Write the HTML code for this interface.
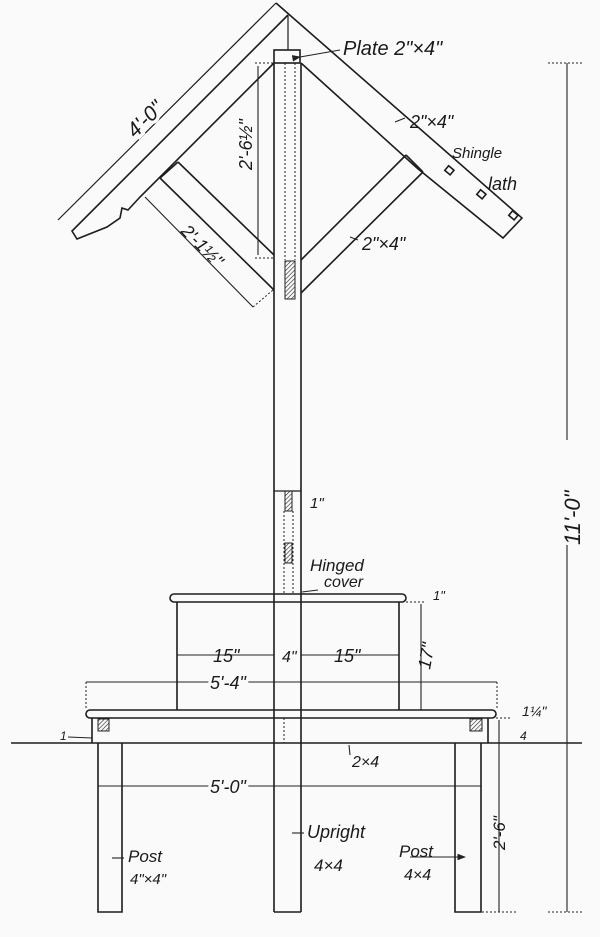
<!DOCTYPE html>
<html><head><meta charset="utf-8"><style>
html,body{margin:0;padding:0;background:#fafafa;}
svg{display:block}
text{font-family:"Liberation Sans",sans-serif;fill:#1a1a1a;font-style:italic}
</style></head><body>
<svg width="600" height="937" viewBox="0 0 600 937" xmlns="http://www.w3.org/2000/svg">
<defs>
<pattern id="h" width="3" height="3" patternUnits="userSpaceOnUse" patternTransform="rotate(45)">
<line x1="0" y1="0" x2="0" y2="3" stroke="#222" stroke-width="1.2"/></pattern>
<marker id="a" markerWidth="8" markerHeight="6" refX="7" refY="3" orient="auto"><path d="M0,0 L8,3 L0,6z" fill="#222"/></marker>
</defs>
<g stroke="#1c1c1c" stroke-width="1.6" fill="none">
<!-- dimension 4'-0 -->
<line x1="58" y1="220" x2="276" y2="3" stroke-width="1.2"/>
<!-- left rafter -->
<polyline points="288,15 72,231 77,239 107,227 120,218 122,208 128,210 140,197 274,63"/>
<!-- right rafter -->
<polyline points="276,3 522,218 503,238 417,168 301,63"/>
<line x1="288" y1="15" x2="288" y2="50" stroke-width="1.2"/>
<!-- lath squares -->
<rect x="446" y="167" width="7" height="6" transform="rotate(40 449 170)"/>
<rect x="478" y="191" width="7" height="6" transform="rotate(40 481 194)"/>
<rect x="510" y="212" width="7" height="6" transform="rotate(40 513 215)"/>
<!-- left strut -->
<line x1="178" y1="162" x2="274" y2="255"/>
<line x1="160" y1="178" x2="274" y2="290"/>
<line x1="178" y1="162" x2="160" y2="178"/>
<!-- right strut -->
<line x1="406" y1="155" x2="301" y2="260"/>
<line x1="423" y1="172" x2="301" y2="293"/>
<line x1="406" y1="155" x2="423" y2="172"/>
<!-- plate -->
<rect x="274" y="50" width="26" height="13"/>
<!-- upright -->
<line x1="274" y1="63" x2="274" y2="912"/>
<line x1="301" y1="63" x2="301" y2="912"/>
<line x1="274" y1="912" x2="301" y2="912"/>
<line x1="274" y1="491" x2="301" y2="491" stroke-width="1.2"/>
<!-- box -->
<rect x="170" y="594" width="236" height="8" rx="4"/>
<line x1="177" y1="602" x2="177" y2="710"/>
<line x1="399" y1="602" x2="399" y2="710"/>
<!-- bench -->
<rect x="86" y="710" width="410" height="8" rx="4"/>
<line x1="92" y1="718" x2="92" y2="743"/>
<line x1="488" y1="718" x2="488" y2="743"/>
<line x1="11" y1="743" x2="582" y2="743" stroke-width="1.4"/>
<!-- legs -->
<polyline points="98,743 98,912 122,912 122,743"/>
<polyline points="455,743 455,912 481,912 481,743"/>
</g>
<!-- hatched blocks -->
<g stroke="#222" stroke-width="1" fill="url(#h)">
<rect x="285" y="261" width="10" height="38"/>
<rect x="285" y="491" width="7" height="20"/>
<rect x="285" y="543" width="7" height="20"/>
<rect x="98" y="719" width="11" height="12"/>
<rect x="470" y="719" width="12" height="12"/>
</g>
<g stroke="#222" stroke-width="1" stroke-dasharray="2,2" fill="none">
<line x1="285" y1="63" x2="285" y2="260"/>
<line x1="295" y1="63" x2="295" y2="260"/>
<line x1="284" y1="511" x2="284" y2="593"/>
<line x1="293" y1="511" x2="293" y2="593"/>
<line x1="284" y1="718" x2="284" y2="743"/>
<line x1="255" y1="63" x2="274" y2="63"/>
<line x1="255" y1="258" x2="274" y2="258"/>
<line x1="253" y1="307" x2="273" y2="290"/>
<line x1="548" y1="63" x2="582" y2="63"/>
<line x1="482" y1="912" x2="518" y2="912"/>
<line x1="548" y1="912" x2="582" y2="912"/>
<line x1="86" y1="682" x2="86" y2="710"/>
<line x1="497" y1="682" x2="497" y2="710"/>
<line x1="406" y1="602" x2="425" y2="602"/>
<line x1="496" y1="718" x2="510" y2="718"/>
</g>
<!-- dimension lines -->
<g stroke="#222" stroke-width="1.1" fill="none">
<line x1="258" y1="66" x2="258" y2="255"/>
<line x1="145" y1="197" x2="253" y2="307"/>
<line x1="567" y1="63" x2="567" y2="440"/>
<line x1="567" y1="545" x2="567" y2="912"/>
<line x1="177" y1="655" x2="274" y2="655"/>
<line x1="301" y1="655" x2="399" y2="655"/>
<line x1="86" y1="682" x2="497" y2="682"/>
<line x1="98" y1="786" x2="481" y2="786"/>
<line x1="421" y1="604" x2="421" y2="710"/>
<line x1="499" y1="720" x2="499" y2="912"/>
<line x1="300" y1="57" x2="340" y2="50" marker-start="url(#a)"/>
<line x1="302" y1="592" x2="318" y2="590"/>
<line x1="395" y1="122" x2="405" y2="118"/>
<line x1="350" y1="237" x2="358" y2="240"/>
<line x1="410" y1="857" x2="465" y2="857" marker-end="url(#a)"/>
<line x1="292" y1="833" x2="304" y2="833"/>
<line x1="112" y1="858" x2="124" y2="858"/>
<line x1="68" y1="737" x2="92" y2="738"/>
<line x1="349" y1="745" x2="350" y2="755"/>
</g>
<g font-size="19">
<text x="343" y="55" font-size="20">Plate  2"×4"</text>
<text x="410" y="128" font-size="18">2"×4"</text>
<text x="452" y="158" font-size="15">Shingle</text>
<text x="488" y="190" font-size="18">lath</text>
<text x="362" y="250" font-size="18">2"×4"</text>
<text transform="translate(150,124) rotate(-45)" text-anchor="middle" font-size="21" style="paint-order:stroke" stroke="#fafafa" stroke-width="7">4'-0"</text>
<text transform="translate(252,170) rotate(-90)" font-size="18">2'-6½"</text>
<text transform="translate(180,232) rotate(45)" font-size="18">2'-1½"</text>
<text transform="translate(580,545) rotate(-90)" font-size="22">11'-0"</text>
<text x="310" y="508" font-size="15">1"</text>
<text x="310" y="571" font-size="17">Hinged</text>
<text x="324" y="587" font-size="16">cover</text>
<text x="433" y="600" font-size="13">1"</text>
<text x="213" y="662" font-size="18">15"</text>
<text x="282" y="662" font-size="16">4"</text>
<text x="334" y="662" font-size="18">15"</text>
<text x="210" y="689" font-size="18" style="paint-order:stroke" stroke="#fafafa" stroke-width="6">5'-4"</text>
<text transform="translate(430,670) rotate(-80)" font-size="18">17"</text>
<text x="522" y="716" font-size="14">1¼"</text>
<text x="520" y="740" font-size="12">4</text>
<text x="60" y="740" font-size="12">1</text>
<text x="352" y="767" font-size="16">2×4</text>
<text x="210" y="793" font-size="18" style="paint-order:stroke" stroke="#fafafa" stroke-width="6">5'-0"</text>
<text transform="translate(505,850) rotate(-90)" font-size="17">2'-6"</text>
<text x="307" y="838" font-size="18">Upright</text>
<text x="314" y="871" font-size="17">4×4</text>
<text x="128" y="862" font-size="17">Post</text>
<text x="130" y="884" font-size="15">4"×4"</text>
<text x="399" y="857" font-size="17">Post</text>
<text x="404" y="880" font-size="16">4×4</text>
</g>
</svg>
</body></html>
